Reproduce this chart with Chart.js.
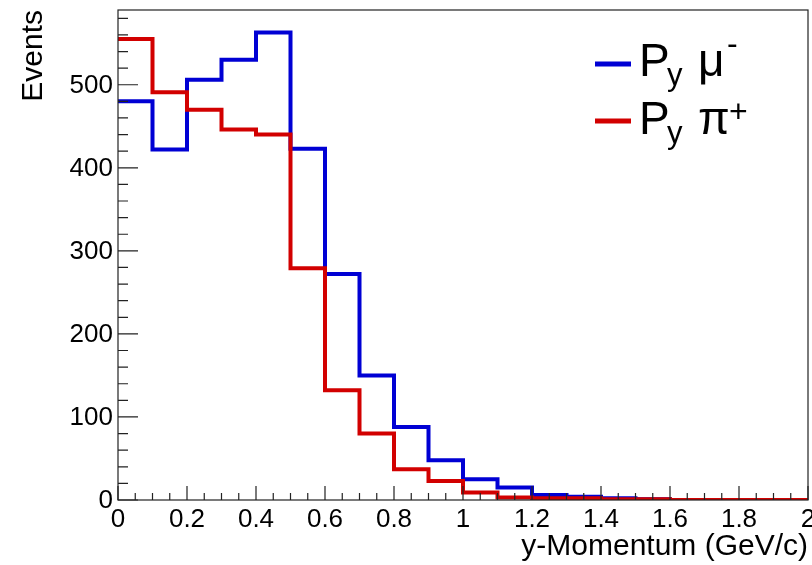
<!DOCTYPE html>
<html>
<head>
<meta charset="utf-8">
<script src="https://cdn.jsdelivr.net/npm/chart.js@4"></script>
<style>
  html, body { margin: 0; padding: 0; background: #fff; }
  canvas { display: block; }
</style>
</head>
<body>
<canvas id="histChart" width="812" height="565"></canvas>
<script>
// bin edges (GeV/c), 20 bins of 0.1
const binEdges = [0, 0.1, 0.2, 0.3, 0.4, 0.5, 0.6, 0.7, 0.8, 0.9, 1.0,
                  1.1, 1.2, 1.3, 1.4, 1.5, 1.6, 1.7, 1.8, 1.9, 2.0];

// events per bin
const muMinus = [480, 422, 506, 530, 563, 423, 272, 150, 88, 48,
                 25, 15, 6, 4, 2, 1, 0, 0, 0, 0];
const piPlus = [555, 491, 470, 446, 440, 279, 132, 80, 37, 23,
                9, 3, 2, 2, 1, 1, 0, 0, 0, 0];

const xTicks = [0, 0.2, 0.4, 0.6, 0.8, 1, 1.2, 1.4, 1.6, 1.8, 2];
const xTickLabels = ['0', '0.2', '0.4', '0.6', '0.8', '1', '1.2', '1.4', '1.6', '1.8', '2'];
const yTicks = [0, 100, 200, 300, 400, 500];
const yTickLabels = ['0', '100', '200', '300', '400', '500'];

const blue = '#0000d4';
const red = '#d20000';

function toSteps(values) {
    // one point per left edge, plus the closing right edge
    const pts = values.map((v, i) => ({ x: binEdges[i], y: v }));
    pts.push({ x: binEdges[binEdges.length - 1], y: values[values.length - 1] });
    return pts;
}

const font = 'Liberation Sans, Arial, Helvetica, sans-serif';

// frame, inward ticks, labels, titles, legend (ROOT style)
const rootStyle = {
    id: 'rootStyle',
    afterDraw(chart) {
        const c = chart.ctx;
        const a = chart.chartArea;
        const xs = chart.scales.x;
        const ys = chart.scales.y;
        c.save();

        // frame
        c.strokeStyle = '#222';
        c.lineWidth = 1.2;
        c.strokeRect(a.left, a.top, a.right - a.left, a.bottom - a.top);

        // x ticks
        c.lineWidth = 1.2;
        c.beginPath();
        for (let i = 0; i <= 40; i++) {
            const v = i * 0.05;
            const px = xs.getPixelForValue(v);
            const len = (i % 4 === 0) ? 14 : 7;
            c.moveTo(px, a.bottom);
            c.lineTo(px, a.bottom - len);
        }
        // y ticks
        for (let v = 0; v <= 580; v += 20) {
            const py = ys.getPixelForValue(v);
            const len = (v % 100 === 0) ? 20 : 10;
            c.moveTo(a.left, py);
            c.lineTo(a.left + len, py);
        }
        c.stroke();

        // tick labels
        c.fillStyle = '#000';
        c.font = '26px ' + font;
        c.textAlign = 'center';
        c.textBaseline = 'alphabetic';
        xTicks.forEach((v, i) => {
            c.fillText(xTickLabels[i], xs.getPixelForValue(v), 527);
        });
        c.textAlign = 'right';
        c.textBaseline = 'middle';
        yTicks.forEach((v, i) => {
            c.fillText(yTickLabels[i], a.left - 5, ys.getPixelForValue(v) + 1);
        });

        // axis titles
        c.font = '30px ' + font;
        c.textAlign = 'right';
        c.textBaseline = 'alphabetic';
        c.fillText('y-Momentum (GeV/c)', a.right, 555);
        c.save();
        c.translate(42, a.top);
        c.rotate(-Math.PI / 2);
        c.fillText('Events', 0, 0);
        c.restore();

        // legend
        const rows = [
            { color: blue, y: 64, base: 76, sym: '\u03bc', sup: '-', sx: 727, sb: -22 },
            { color: red, y: 121, base: 134, sym: '\u03c0', sup: '+', sx: 729, sb: -12 }
        ];
        rows.forEach(r => {
            c.strokeStyle = r.color;
            c.lineWidth = 5;
            c.beginPath();
            c.moveTo(595, r.y);
            c.lineTo(631, r.y);
            c.stroke();
            c.fillStyle = '#000';
            c.textAlign = 'left';
            c.font = '46px ' + font;
            c.fillText('P', 639, r.base);
            c.font = '31px ' + font;
            c.fillText('y', 667, r.base + 9);
            c.font = '46px ' + font;
            c.fillText(r.sym, 698, r.base);
            c.font = '32px ' + font;
            c.fillText(r.sup, r.sx, r.base + r.sb);
        });

        c.restore();
    }
};

const ctx = document.getElementById('histChart').getContext('2d');
const chart = new Chart(ctx, {
    type: 'line',
    data: {
        datasets: [{
            label: 'P_y pi+',
            data: toSteps(piPlus),
            borderColor: red,
            borderWidth: 4,
            stepped: 'before',
            pointRadius: 0,
            fill: false,
            order: 0
        }, {
            label: 'P_y mu-',
            data: toSteps(muMinus),
            borderColor: blue,
            borderWidth: 4,
            stepped: 'before',
            pointRadius: 0,
            fill: false,
            order: 1
        }]
    },
    options: {
        responsive: false,
        animation: false,
        layout: { padding: { left: 118, right: 4, top: 10, bottom: 65 } },
        scales: {
            x: { type: 'linear', min: 0, max: 2, display: false },
            y: { type: 'linear', min: 0, max: 590, display: false }
        },
        plugins: {
            legend: { display: false },
            tooltip: { enabled: false }
        }
    },
    plugins: [rootStyle]
});
</script>
</body>
</html>
